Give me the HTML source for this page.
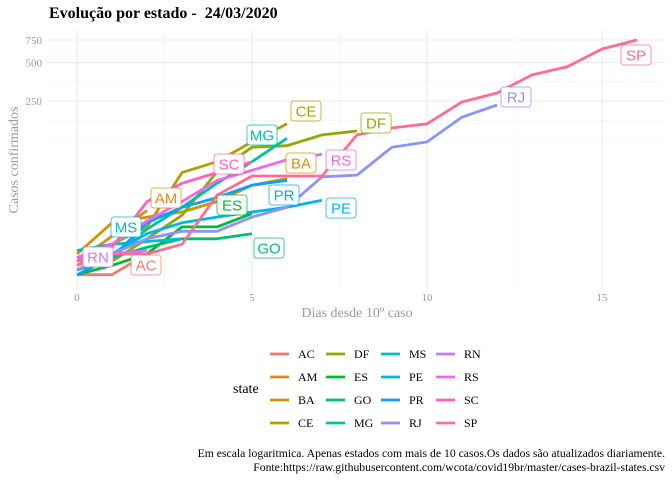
<!DOCTYPE html>
<html><head><meta charset="utf-8">
<style>
html,body{margin:0;padding:0;background:#fff;width:672px;height:480px;overflow:hidden}
svg{display:block}
</style></head>
<body>
<svg id="chart" width="672" height="480" xmlns="http://www.w3.org/2000/svg">
<text x="49" y="18" font-family="Liberation Serif, serif" font-weight="bold" font-size="16" fill="#000" style="white-space:pre">Evolução por estado -&#160; 24/03/2020</text>
<g id="grid"></g>
<g id="series"></g>
<g id="labels"></g>
<g id="axes"></g>
<text x="357" y="317" text-anchor="middle" font-family="Liberation Serif, serif" font-size="14" fill="#999">Dias desde 10º caso</text>
<text transform="translate(18,160) rotate(-90)" text-anchor="middle" font-family="Liberation Serif, serif" font-size="14" fill="#999">Casos confirmados</text>
<g id="legend">
<text x="233" y="393" font-family="Liberation Serif, serif" font-size="14" fill="#000">state</text>
</g>
<text x="665" y="457" text-anchor="end" font-family="Liberation Serif, serif" font-size="11.7" fill="#000">Em escala logaritmica. Apenas estados com mais de 10 casos.Os dados são atualizados diariamente.</text>
<text x="665" y="471" text-anchor="end" font-family="Liberation Serif, serif" font-size="11.7" fill="#000">Fonte:https://raw.githubusercontent.com/wcota/covid19br/master/cases-brazil-states.csv</text>
</svg>
<script>
const states = ["AC","AM","BA","CE","DF","ES","GO","MG","MS","PE","PR","RJ","RN","RS","SC","SP"];
const colors = ["#F8766D","#E7861A","#D09400","#B2A000","#8FAA00","#00BA38","#00BF6F","#00C1A3","#00BFC4","#00B6EB","#06A4FF","#8B93FF","#C77CFF","#EF67EB","#FF62BC","#FF6C91"];
const sAC = [11,11,16];
const sAM = [14,22,35];
const sBA = [16,28,31,34,41,55,62];
const sCE = [13,19,26,69,84,120,166];
const sDF = [12,14,21,32,70,109,112,136,146];
const sES = [11,13,16,26,26,33];
const sGO = [12,15,18,21,21,23];
const sMG = [12,15,25,37,57,84,128];
const sMS = [17,19,20,21];
const sPE = [12,16,23,28,31,34,37,42];
const sPR = [11,15,28,37,44,55,60];
const sRJ = [12,16,21,24,24,31,37,64,66,109,120,187,233];
const sRN = [15,16,17];
const sRS = [15,19,29,41,60,72,87,96];
const sSC = [14,18,41,57,69,84];
const sSP = [13,16,16,19,46,65,65,65,136,154,166,246,289,400,462,638,750];
const seriesData = [sAC,sAM,sBA,sCE,sDF,sES,sGO,sMG,sMS,sPE,sPR,sRJ,sRN,sRS,sSC,sSP];
const xTicks = [0,5,10,15];
const yTicks = [250,500,750];
const yMinor = [125,177,354,612];
const labelPos = {AC:[146,265],AM:[166,198],BA:[301,163],CE:[306,111],DF:[376,123],ES:[232,205],GO:[269,248],MG:[262,135],MS:[126,227],PE:[341,208],PR:[284,195],RJ:[516,97],RN:[98,257],RS:[341,160],SC:[229,164],SP:[636,55]};

const NS="http://www.w3.org/2000/svg";
const X = d => 77 + d*35;
const Y = v => 40 + (Math.log10(750) - Math.log10(v))*128;
const L=47, R=665, T=30, B=290;
function mk(tag, attrs, parent){const e=document.createElementNS(NS,tag);for(const k in attrs)e.setAttribute(k,attrs[k]);parent.appendChild(e);return e;}
const grid=document.getElementById('grid');
yMinor.forEach(v=>{const e=mk('line',{x1:L,x2:R,y1:Y(v),y2:Y(v),stroke:'#f0f0f0','stroke-width':0.6},grid);

});
[2.5,7.5,12.5].forEach(d=>{const e=mk('line',{x1:X(d),x2:X(d),y1:T,y2:B,stroke:'#f0f0f0','stroke-width':0.6},grid);

});
const axes=document.getElementById('axes');
yTicks.forEach(v=>{const e=mk('line',{x1:L,x2:R,y1:Y(v),y2:Y(v),stroke:'#ebebeb','stroke-width':1.1},grid);


const t=mk('text',{x:42,y:Y(v)+4,'text-anchor':'end','font-family':'Liberation Serif, serif','font-size':11,fill:'#999'},axes);t.textContent=v;

});
xTicks.forEach(d=>{const e=mk('line',{x1:X(d),x2:X(d),y1:T,y2:B,stroke:'#ebebeb','stroke-width':1.1},grid);


const t=mk('text',{x:X(d),y:301,'text-anchor':'middle','font-family':'Liberation Serif, serif','font-size':11,fill:'#999'},axes);t.textContent=d;

});
const sg=document.getElementById('series'), lg=document.getElementById('labels'), leg=document.getElementById('legend');
seriesData.forEach((arr,i)=>{
  const pts=arr.map((v,d)=>X(d).toFixed(1)+','+Y(v).toFixed(1)).join(' ');
  const p=mk('polyline',{points:pts,fill:'none',stroke:colors[i],'stroke-width':2.8,'stroke-linejoin':'round'},sg);
  
  
});
states.forEach((s,i)=>{
  const [cx,cy]=labelPos[s];
  const w=s.length*10+10;
  const g=mk('g',{},lg);
  
  
  mk('rect',{x:cx-w/2,y:cy-10,width:w,height:20,rx:3,fill:'#fff',stroke:colors[i],'stroke-width':1,'stroke-opacity':0.75},g);
  const t=mk('text',{x:cx,y:cy+5.5,'text-anchor':'middle','font-family':'Liberation Sans, sans-serif','font-size':15,fill:colors[i]},g);t.textContent=s;
  const col=Math.floor(i/4), row=i%4;
  const lx=[270,326,381,436][col], ly=354+row*23;
  const lgE=mk('g',{},leg);
  
  
  mk('line',{x1:lx,x2:lx+19,y1:ly,y2:ly,stroke:colors[i],'stroke-width':2.8},lgE);
  const lt=mk('text',{x:lx+28,y:ly+4,'font-family':'Liberation Serif, serif','font-size':12,fill:'#000'},lgE);lt.textContent=s;
});
</script>
</body></html>
